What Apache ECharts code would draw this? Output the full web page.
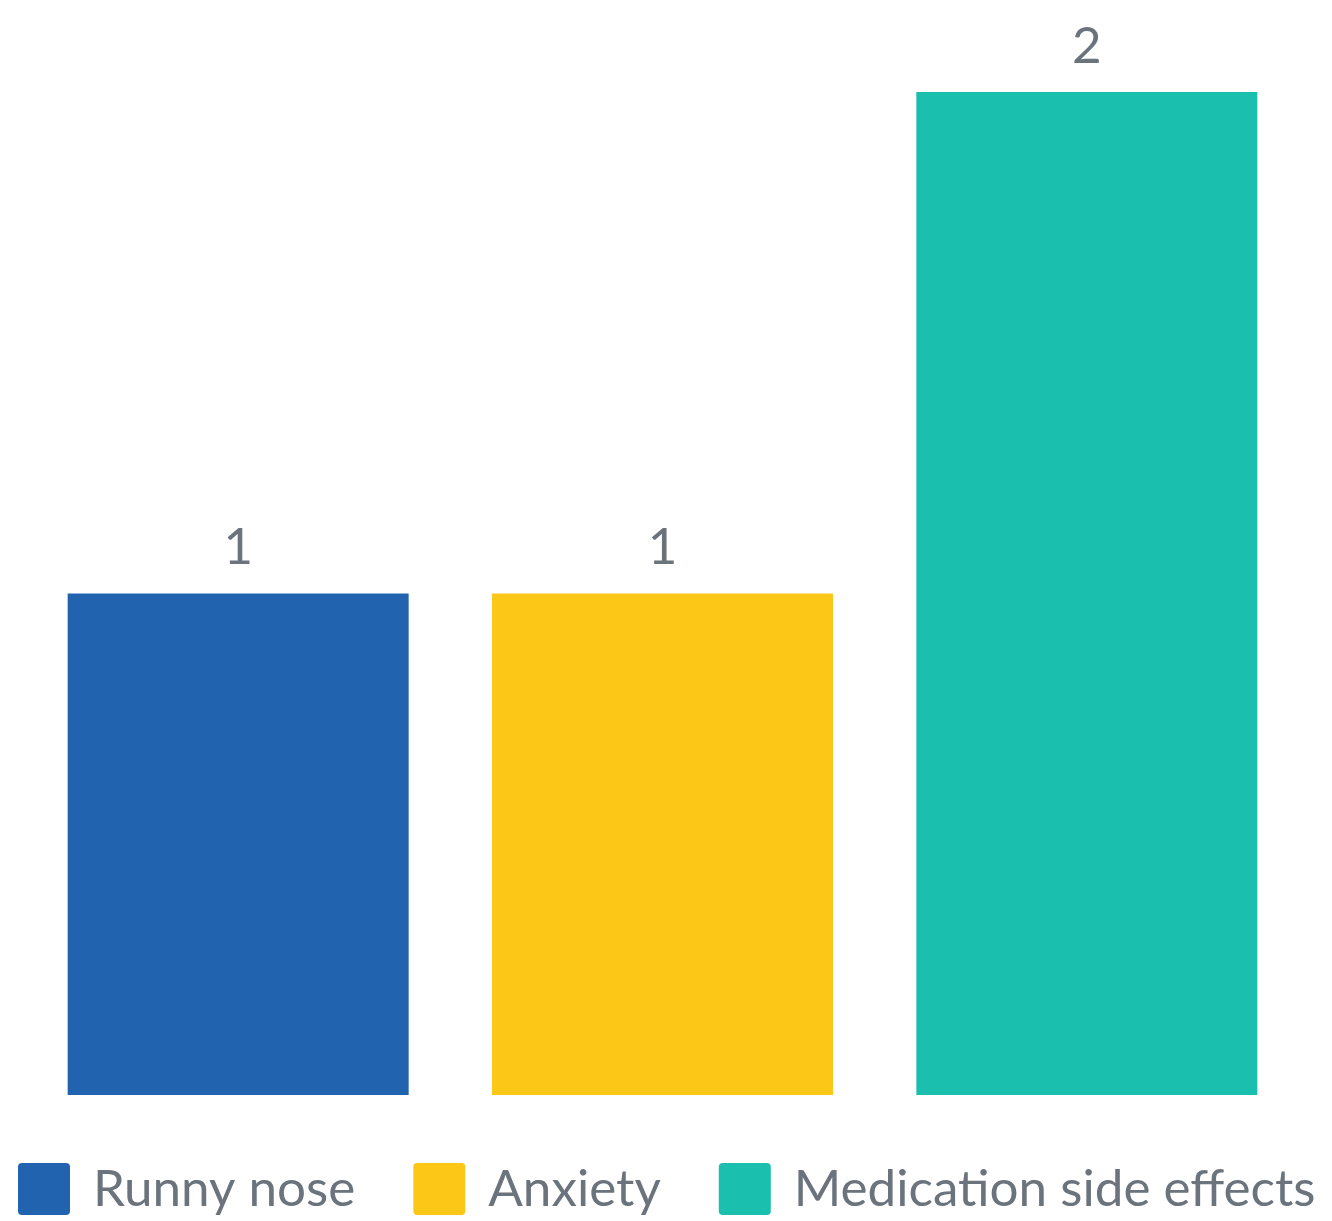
<!DOCTYPE html>
<html>
<head>
<meta charset="utf-8">
<script src="https://cdn.jsdelivr.net/npm/echarts@6/dist/echarts.min.js"></script>
<style>
  html, body { margin: 0; padding: 0; background: #ffffff; }
  #chart { width: 1332px; height: 1221px; }
</style>
</head>
<body>
<div id="chart"></div>
<script>
// Reported symptoms and their counts
const categories = ['Runny nose', 'Anxiety', 'Medication side effects'];
const counts = [1, 1, 2];
const colors = ['#2163ae', '#fdc717', '#1abfad'];

const textColor = '#6b737d';
const fontFamily = 'Lato, "Open Sans", sans-serif';

// Square legend swatch with slightly rounded corners
const swatch = 'path://M4,0 H48 Q52,0 52,4 V48 Q52,52 48,52 H4 Q0,52 0,48 V4 Q0,0 4,0 Z';

// One series per symptom so each gets its own legend entry; stacking keeps
// every bar centred in its own category slot.
const series = categories.map((name, i) => ({
  name: name,
  type: 'bar',
  stack: 'all',
  barWidth: 341,
  data: categories.map((_, j) => (j === i ? counts[i] : '-')),
  itemStyle: { color: colors[i] },
  label: {
    show: true,
    position: 'top',
    distance: 20,
    color: textColor,
    fontFamily: fontFamily,
    fontSize: 51
  }
}));

const chart = echarts.init(document.getElementById('chart'), null, { renderer: 'canvas' });
chart.setOption({
  animation: false,
  backgroundColor: '#ffffff',
  grid: { left: 26, right: 33, top: 92, bottom: 126, containLabel: false },
  xAxis: {
    type: 'category',
    data: categories,
    axisLine: { show: false },
    axisTick: { show: false },
    axisLabel: { show: false },
    splitLine: { show: false }
  },
  yAxis: {
    type: 'value',
    min: 0,
    max: 2,
    show: false
  },
  legend: {
    left: 13,
    top: 1158,
    width: 1319,
    padding: 5,
    itemWidth: 52,
    itemHeight: 52,
    itemGap: 58,
    icon: swatch,
    textStyle: { color: textColor, fontFamily: fontFamily, fontSize: 51.2, padding: [0, 0, 0, 18] },
    data: categories
  },
  series: series
});
</script>
</body>
</html>
